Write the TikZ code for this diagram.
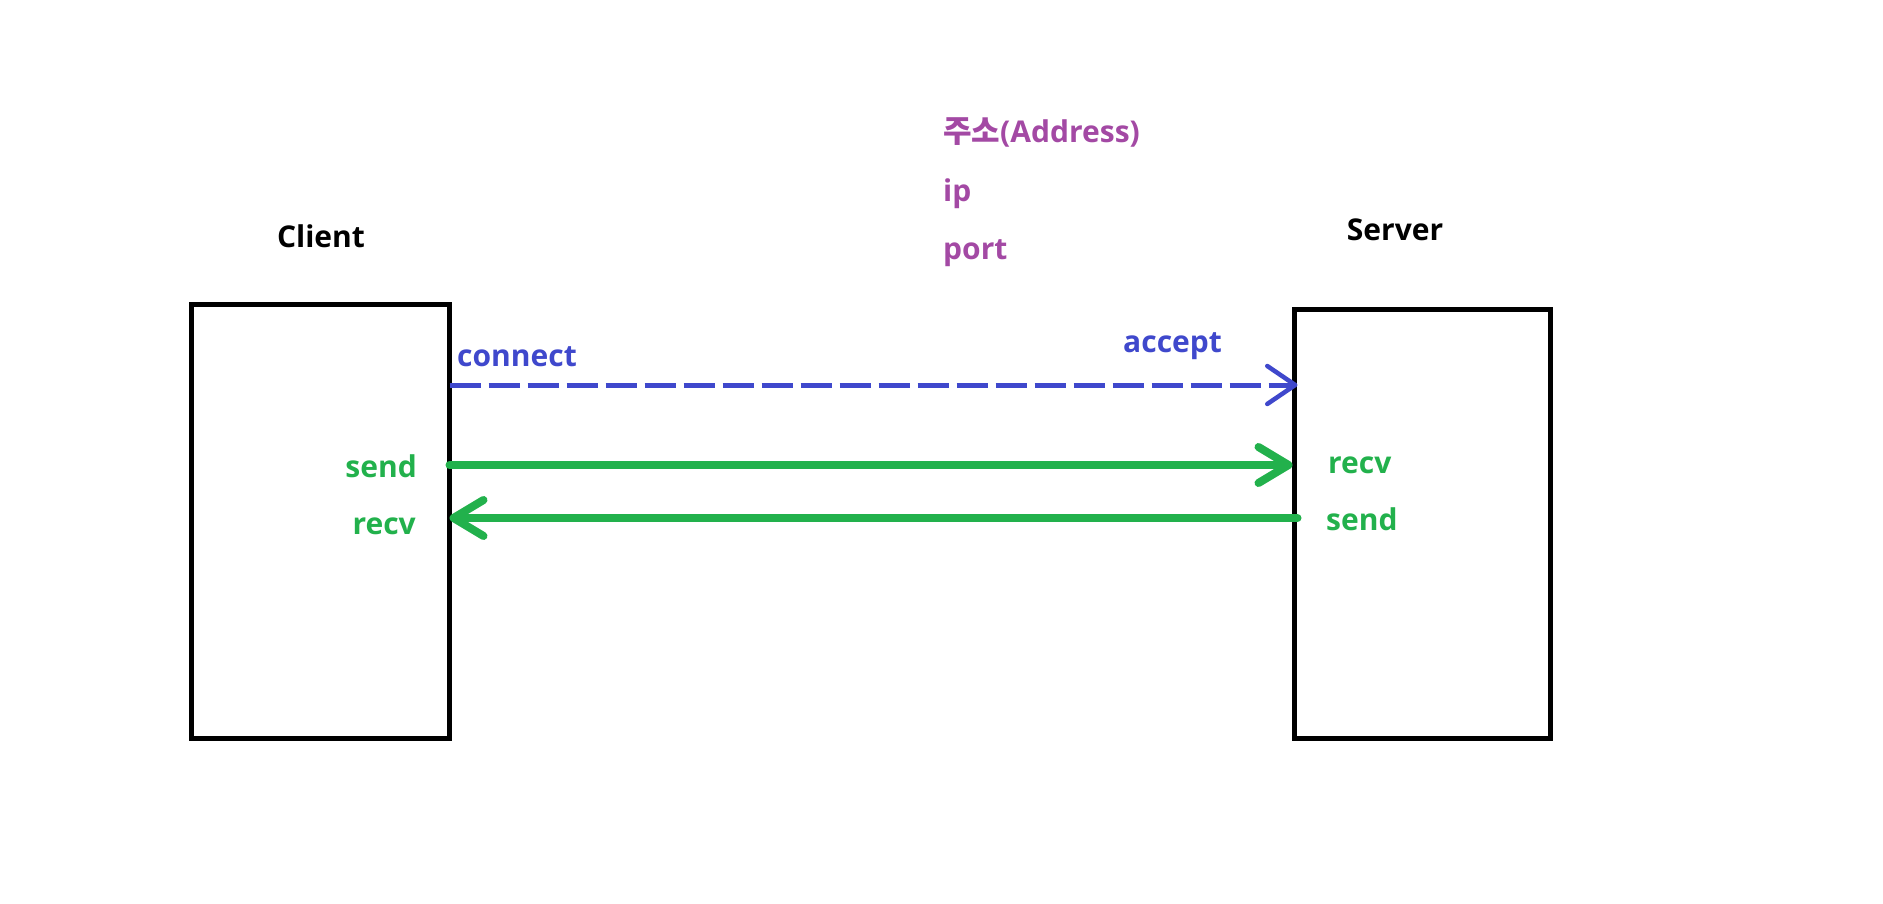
\documentclass[tikz,border=0pt]{standalone}
\usepackage{fontspec}
\setmainfont{Open Sans}
\newfontfamily\krfont{Noto Sans CJK KR}
\usetikzlibrary{arrows.meta}
\definecolor{pgreen}{HTML}{22B14C}
\definecolor{pblue}{HTML}{3F48CC}
\definecolor{ppurple}{HTML}{A349A4}
\begin{document}
\begin{tikzpicture}[x=1pt,y=-1pt,
  box/.style={draw=black,line width=5pt,inner sep=0,outer sep=0},
  lbl/.style={font=\fontsize{30}{36}\selectfont\bfseries,inner sep=0},
  conn/.style={draw=pblue,line width=5pt,dash pattern=on 31pt off 8pt,
    -{Straight Barb[length=28pt,width=38pt,round,line width=4.5pt]}},
  msg/.style={draw=pgreen,line width=8pt,line cap=round,
    -{Straight Barb[length=30pt,width=36pt,round,line width=8pt]}}]
\useasboundingbox (0,0) rectangle (1883,904);
\fill[white] (0,0) rectangle (1883,904);
% boxes
\node[box,minimum width=258pt,minimum height=434pt] (client) at (320.5,521.5) {};
\node[box,minimum width=256pt,minimum height=429pt] (server) at (1422.5,524) {};
% titles
\node[lbl,anchor=base] (ctitle) at (321,248) {Client};
\node[lbl,anchor=base] (stitle) at (1395,241) {Server};
% address
\node[lbl,anchor=base west,text=ppurple] (addr) at (943,143) {{\krfont\bfseries\fontsize{31}{36}\selectfont 주소}(Address)};
\node[lbl,anchor=base west,text=ppurple] (ip) at (943,202) {ip};
\node[lbl,anchor=base west,text=ppurple] (port) at (943,260) {port};
% labels
\node[lbl,anchor=base west,text=pblue] (connect) at (457,366) {connect};
\node[lbl,anchor=base west,text=pblue] (accept) at (1123,352) {accept};
\node[lbl,anchor=base east,text=pgreen] (csend) at (417,477) {send};
\node[lbl,anchor=base east,text=pgreen] (crecv) at (416,534) {recv};
\node[lbl,anchor=base west,text=pgreen] (srecv) at (1328,473) {recv};
\node[lbl,anchor=base west,text=pgreen] (ssend) at (1326,530) {send};
% connector heights
\coordinate (y1) at (0,385);
\coordinate (y2) at (0,465);
\coordinate (y3) at (0,518);
\coordinate (c1) at (client.east |- y1);
\coordinate (s1) at ([xshift=3pt]server.west |- y1);
\coordinate (c2) at (client.east |- y2);
\coordinate (s2) at ([xshift=-2pt]server.west |- y2);
\coordinate (c3) at (client.east |- y3);
\coordinate (s3) at ([xshift=3pt]server.west |- y3);
\draw[conn] (c1) -- (s1);
\draw[msg] (c2) -- (s2);
\draw[msg] (s3) -- (c3);
\end{tikzpicture}
\end{document}
